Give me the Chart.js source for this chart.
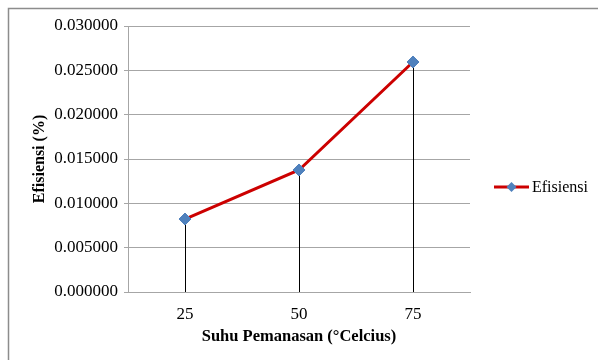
<!DOCTYPE html>
<html>
<head>
<meta charset="utf-8">
<style>
  html, body { margin: 0; padding: 0; background: #ffffff; }
  #wrap { position: relative; width: 598px; height: 360px; }
</style>
<script src="https://cdn.jsdelivr.net/npm/chart.js@4/dist/chart.umd.min.js"></script>
</head>
<body>
<div id="wrap"><canvas id="chart" width="598" height="360"></canvas></div>
<script>
// Heating temperature (°C) and the measured efficiency
const categories = ['25', '50', '75'];
const efisiensi = [0.00823, 0.01376, 0.02594];
const yTicks = [0, 0.005, 0.01, 0.015, 0.02, 0.025, 0.03];

const SERIF = "'Liberation Serif', 'Times New Roman', serif";
const LINE_RED = '#cc0000';
const MARKER_BLUE = '#4f81bd';
const GRID_GRAY = '#a6a6a6';

// Outer frame around the whole chart
const framePlugin = {
  id: 'frame',
  beforeDraw(chart) {
    const ctx = chart.ctx;
    ctx.save();
    ctx.fillStyle = '#ffffff';
    ctx.fillRect(0, 0, chart.width, chart.height);
    ctx.strokeStyle = '#8c8c8c';
    ctx.lineWidth = 1.5;
    ctx.strokeRect(8.5, 8.5, chart.width + 20, chart.height + 20);
    ctx.restore();
  }
};

// Vertical drop lines from each point down to the category axis
const dropLinePlugin = {
  id: 'dropLines',
  beforeDatasetsDraw(chart) {
    const ctx = chart.ctx;
    const bottom = chart.chartArea.bottom;
    const meta = chart.getDatasetMeta(0);
    ctx.save();
    ctx.strokeStyle = '#000000';
    ctx.lineWidth = 1;
    meta.data.forEach(pt => {
      const x = Math.round(pt.x) + 0.5;
      ctx.beginPath();
      ctx.moveTo(x, pt.y);
      ctx.lineTo(x, bottom);
      ctx.stroke();
    });
    ctx.restore();
  }
};

// Legend entry on the right: line with diamond marker and series name
const sideLegendPlugin = {
  id: 'sideLegend',
  afterDraw(chart) {
    const ctx = chart.ctx;
    const ds = chart.data.datasets[0];
    const y = 187;
    const x0 = 494, x1 = 529;
    ctx.save();
    ctx.strokeStyle = ds.borderColor;
    ctx.lineWidth = ds.borderWidth;
    ctx.beginPath();
    ctx.moveTo(x0, y);
    ctx.lineTo(x1, y);
    ctx.stroke();
    const cx = (x0 + x1) / 2, r = 5;
    ctx.fillStyle = ds.pointBackgroundColor;
    ctx.beginPath();
    ctx.moveTo(cx, y - r);
    ctx.lineTo(cx + r, y);
    ctx.lineTo(cx, y + r);
    ctx.lineTo(cx - r, y);
    ctx.closePath();
    ctx.fill();
    ctx.fillStyle = '#000000';
    ctx.font = '16px ' + SERIF;
    ctx.textBaseline = 'middle';
    ctx.textAlign = 'left';
    ctx.fillText(ds.label, 532, y + 1);
    ctx.restore();
  }
};

new Chart(document.getElementById('chart'), {
  type: 'line',
  data: {
    labels: categories,
    datasets: [{
      label: 'Efisiensi',
      data: efisiensi,
      borderColor: LINE_RED,
      borderWidth: 3,
      tension: 0,
      pointStyle: 'rectRot',
      pointRadius: 6,
      pointHoverRadius: 6,
      pointBackgroundColor: MARKER_BLUE,
      pointBorderColor: MARKER_BLUE,
      pointBorderWidth: 1
    }]
  },
  options: {
    responsive: false,
    animation: false,
    devicePixelRatio: 1,
    layout: { padding: { left: 0, top: 26, right: 128, bottom: 0 } },
    plugins: {
      legend: { display: false },
      tooltip: { enabled: false }
    },
    scales: {
      x: {
        type: 'category',
        offset: true,
        afterFit(scale) { scale.height = 68; },
        grid: { display: false, drawTicks: false },
        border: { display: true, color: GRID_GRAY, width: 1 },
        ticks: {
          color: '#000000',
          padding: 12,
          font: { family: SERIF, size: 17 }
        },
        title: {
          display: true,
          text: 'Suhu Pemanasan (°Celcius)',
          color: '#000000',
          font: { family: SERIF, size: 16.5, weight: 'bold' },
          padding: { top: 0, bottom: 13 }
        }
      },
      y: {
        min: 0,
        max: 0.03,
        afterFit(scale) { scale.width = 128; },
        afterBuildTicks(scale) { scale.ticks = yTicks.map(v => ({ value: v })); },
        grid: { color: GRID_GRAY, lineWidth: 1, tickLength: 4, drawTicks: true },
        border: { display: true, color: GRID_GRAY, width: 1 },
        ticks: {
          color: '#000000',
          padding: 6,
          font: { family: SERIF, size: 17 },
          callback: v => Number(v).toFixed(6)
        },
        title: {
          display: true,
          text: 'Efisiensi (%)',
          color: '#000000',
          font: { family: SERIF, size: 16, weight: 'bold' },
          padding: { top: 30, bottom: 0 }
        }
      }
    }
  },
  plugins: [framePlugin, dropLinePlugin, sideLegendPlugin]
});
</script>
</body>
</html>
